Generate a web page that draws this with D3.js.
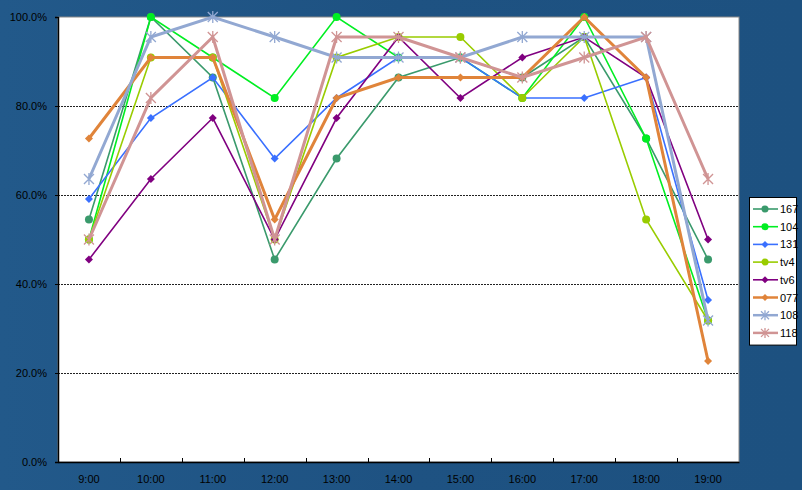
<!DOCTYPE html>
<html><head><meta charset="utf-8">
<script src="https://cdn.jsdelivr.net/npm/d3@7/dist/d3.min.js"></script>
<style>
html,body{margin:0;padding:0;background:#1e5281;}
svg{display:block;}
text{font-family:"Liberation Sans",Arial,sans-serif;}
</style></head><body>
<svg id="c" width="802" height="490"></svg>
<script>
const hours = ["9:00","10:00","11:00","12:00","13:00","14:00","15:00","16:00","17:00","18:00","19:00"];
const yTicks = [0,20,40,60,80,100];
const seriesNames = ["167","104","131","tv4","tv6","077","108","118"];
const s167 = [54.5,100,86.4,45.5,68.2,86.4,90.9,86.4,95.5,72.7,45.5];
const s104 = [50,100,90.9,81.8,100,90.9,90.9,81.8,100,72.7,31.8];
const s131 = [59.1,77.3,86.4,68.2,81.8,90.9,90.9,81.8,81.8,86.4,36.4];
const stv4 = [50,90.9,90.9,50,90.9,95.5,95.5,81.8,95.5,54.5,31.8];
const stv6 = [45.5,63.6,77.3,50,77.3,95.5,81.8,90.9,95.5,86.4,50];
const s077 = [72.7,90.9,90.9,54.5,81.8,86.4,86.4,86.4,100,86.4,22.7];
const s108 = [63.6,95.5,100,95.5,90.9,90.9,90.9,95.5,95.5,95.5,31.8];
const s118 = [50,81.8,95.5,50,95.5,95.5,90.9,86.4,90.9,95.5,63.6];
const seriesValues = [s167,s104,s131,stv4,stv6,s077,s108,s118];

const styles = {
  "167":{color:"#3a9a6c",w:1.6,m:"circle"},
  "104":{color:"#00ee22",w:1.6,m:"circle"},
  "131":{color:"#3a70ff",w:1.6,m:"diamond"},
  "tv4":{color:"#99cc00",w:1.6,m:"circle"},
  "tv6":{color:"#800080",w:1.6,m:"diamond"},
  "077":{color:"#e0843a",w:3,m:"diamond"},
  "108":{color:"#92a8d2",w:3,m:"star"},
  "118":{color:"#d09494",w:3,m:"star"}
};

const svg = d3.select("#c");
// background subtle texture
const defs = svg.append("defs");
const g1 = defs.append("linearGradient").attr("id","bg").attr("x1",0).attr("x2",1).attr("y1",0).attr("y2",0);
g1.append("stop").attr("offset","0%").attr("stop-color","#22598a");
g1.append("stop").attr("offset","50%").attr("stop-color","#1e5282");
g1.append("stop").attr("offset","100%").attr("stop-color","#1d5180");
svg.append("rect").attr("width",802).attr("height",490).attr("fill","url(#bg)");

const L=58,R=739,T=17,B=462;
const x = d3.scaleBand().domain(hours).range([L,R]);
const y = d3.scaleLinear().domain([0,100]).range([B,T]);

svg.append("rect").attr("x",L).attr("y",T).attr("width",R-L).attr("height",B-T)
  .attr("fill","#fff").attr("stroke","#888").attr("stroke-width",1);

// grid
svg.append("g").selectAll("line").data(yTicks.filter(v=>v>0&&v<100)).join("line")
  .attr("x1",L).attr("x2",R).attr("y1",d=>Math.round(y(d))+0.5).attr("y2",d=>Math.round(y(d))+0.5)
  .attr("stroke","#222").attr("stroke-dasharray","2,1").attr("stroke-width",1);

// axes
const yAxis = d3.axisLeft(y).tickValues(yTicks).tickFormat(d=>d.toFixed(1)+"%").tickSize(3).tickPadding(8);
const ya = svg.append("g").attr("transform",`translate(${L},0)`).call(yAxis);
ya.select(".domain").attr("stroke","#000").attr("stroke-width",1.5);
ya.selectAll("text").attr("font-size",11).attr("fill","#000");

const xa = svg.append("g").attr("transform",`translate(0,${B})`)
  .call(d3.axisBottom(x).tickSize(0).tickPadding(13));
xa.select(".domain").attr("stroke","#000").attr("stroke-width",1.5);
xa.selectAll("text").attr("font-size",11).attr("fill","#000");
// x tick marks at band boundaries, pointing up
svg.append("g").selectAll("line").data(hours.slice(1)).join("line")
  .attr("x1",d=>Math.round(x(d))+0.5).attr("x2",d=>Math.round(x(d))+0.5)
  .attr("y1",B).attr("y2",B-4).attr("stroke","#000");

const cx = h => x(h)+x.bandwidth()/2;

function drawMarker(g,type,color,size){
  if(type==="circle"){
    g.append("circle").attr("r",size).attr("fill",color);
  } else if(type==="diamond"){
    g.append("path").attr("d",`M0,${-size}L${size},0L0,${size}L${-size},0Z`).attr("fill",color);
  } else {
    const s=size;
    g.append("path").attr("d",`M${-s},${-s}L${s},${s}M${-s},${s}L${s},${-s}M0,${-s-1}L0,${s+1}`)
      .attr("stroke",color).attr("stroke-width",1.3).attr("fill","none");
  }
}

const line = d3.line().x((d,i)=>cx(hours[i])).y(d=>y(d));
seriesNames.forEach((n,k)=>{
  const st=styles[n], vals=seriesValues[k];
  svg.append("path").datum(vals).attr("d",line).attr("fill","none")
    .attr("stroke",st.color).attr("stroke-width",st.w).attr("stroke-linejoin","miter");
  vals.forEach((v,i)=>{
    const g=svg.append("g").attr("transform",`translate(${cx(hours[i])},${y(v)})`);
    drawMarker(g,st.m,st.color,st.m==="circle"?4:(st.m==="diamond"?4:5));
  });
});

// legend
const lx=749, ly=197, step=17.7;
svg.append("rect").attr("x",lx+0.5).attr("y",ly+0.5).attr("width",47).attr("height",step*8+6)
  .attr("fill","#fff").attr("stroke","#000");
seriesNames.forEach((n,i)=>{
  const st=styles[n], yy=ly+12+i*step;
  svg.append("line").attr("x1",lx+4).attr("x2",lx+29).attr("y1",yy).attr("y2",yy)
    .attr("stroke",st.color).attr("stroke-width",st.w>2?2.5:1.6);
  const g=svg.append("g").attr("transform",`translate(${lx+16},${yy})`);
  drawMarker(g,st.m,st.color,st.m==="star"?4:3.5);
  svg.append("text").attr("x",lx+31).attr("y",yy+4).attr("font-size",11).attr("fill","#000").text(n);
});
</script>
</body></html>
